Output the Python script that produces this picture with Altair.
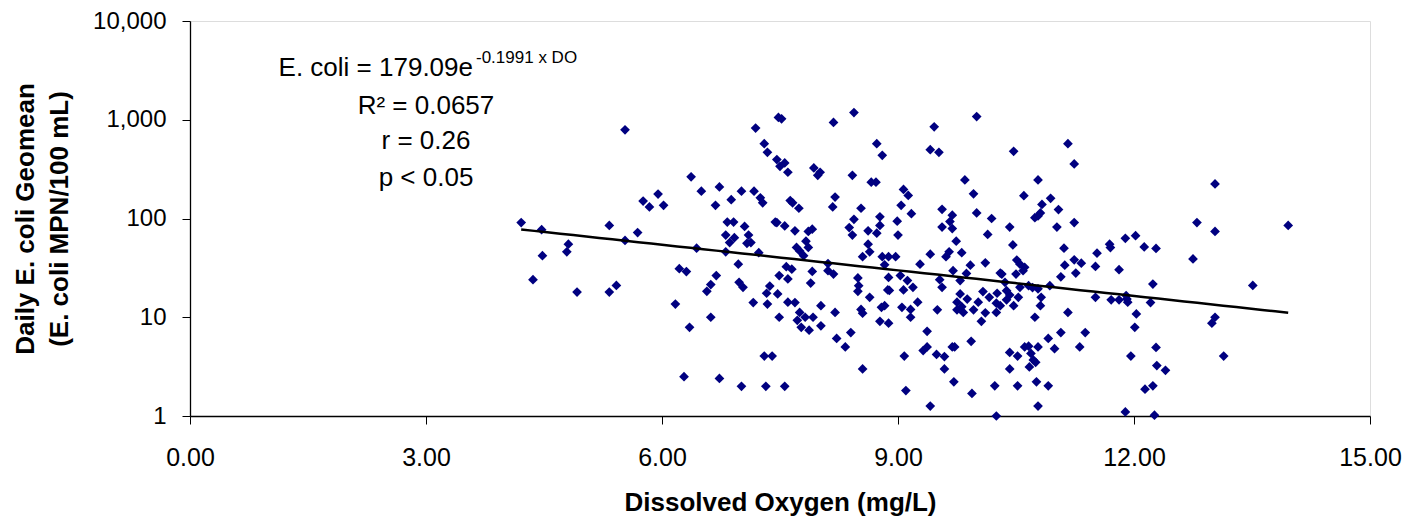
import altair as alt
import numpy as np
import pandas as pd

# Dissolved oxygen (mg/L) and daily E. coli geomean (MPN/100 mL)
do_g1 = [4.21, 4.36, 4.47, 4.48, 4.79, 4.81, 4.92, 5.33, 5.33, 5.42, 5.53, 5.53, 5.69, 5.76, 5.84, 5.95]
ec_g1 = [91, 24, 77, 42, 46, 55, 18, 85, 18, 21, 790, 60, 72, 150, 131, 177]

do_g2 = [6.02, 6.17, 6.22, 6.28, 6.31, 6.35, 6.37, 6.44, 6.50, 6.57, 6.62, 6.62, 6.68, 6.69, 6.73, 6.73,
         6.81, 6.81, 6.83, 6.86, 6.88, 6.91, 6.92, 6.97, 6.98, 7.01, 7.01, 7.03, 7.05, 7.08, 7.10, 7.13,
         7.16, 7.17, 7.19, 7.23, 7.25, 7.28, 7.30, 7.30, 7.32, 7.33, 7.34, 7.34, 7.37, 7.40, 7.44]
ec_g2 = [136, 13.6, 31, 2.5, 29, 7.9, 264, 50, 189, 18.3, 21.4, 10.0, 136, 26.4, 209, 2.4,
         68, 46, 92, 57, 155, 92, 64, 34.5, 22.6, 189, 2.0, 20.1, 83, 56, 68, 57,
         14.1, 189, 823, 45, 162, 144, 572, 4.05, 2.0, 17.5, 468, 13.6, 20.7, 4.05, 92]

do_g3 = [7.48, 7.52, 8.18, 8.44, 8.73, 8.80, 7.46, 7.56, 7.50, 7.60, 7.93, 8.01, 7.98, 8.42, 8.66, 8.72,
         9.07, 9.13, 7.63, 7.66, 7.74, 8.20, 8.17, 8.53, 9.04, 9.17, 7.46, 7.56, 7.69, 7.86, 7.91, 8.44,
         8.38, 8.42, 8.77, 8.77, 8.62, 8.73, 8.99, 9.00, 7.83, 7.86, 7.71, 7.75, 7.80, 8.62, 8.64, 8.55,
         8.80, 8.88, 8.97, 8.83, 8.11, 8.11, 8.18, 7.58, 7.65, 7.91, 7.49, 7.60, 7.89, 8.49, 8.50, 8.49,
         8.88, 9.03, 9.12, 9.19, 8.87, 8.89, 9.07, 8.64, 7.47, 7.60, 7.69, 8.02, 8.20, 7.49, 7.75, 7.82,
         7.72, 7.77, 7.87, 7.92, 8.02, 8.53, 8.55, 8.79, 8.83, 8.77, 8.88, 9.05, 9.16, 9.16, 8.22, 8.33,
         8.40, 8.55, 9.08, 9.10, 7.56]
ec_g3 = [1054, 1021, 938, 1183, 572, 436, 395, 365, 338, 294, 325, 294, 274, 274, 233, 233,
         197, 171, 152, 144, 127, 165, 131, 127, 136, 112, 91, 84, 75, 74, 78, 98,
         81, 68, 104, 85, 75, 71, 94, 68, 59, 51, 51, 47, 42, 55, 46, 41,
         41, 41, 41, 34, 35, 29.6, 27.4, 32.5, 30.7, 29.1, 26.4, 24.4, 22.2, 25.0, 20.9, 18.3,
         25.3, 26.4, 23.5, 20.1, 18.9, 18.7, 18.9, 15.9, 17.2, 14.2, 14.1, 13.1, 11.2, 10.0, 11.2, 10.0,
         9.3, 7.9, 7.4, 10.0, 8.2, 12.0, 11.0, 12.6, 13.1, 9.1, 8.7, 12.6, 12.0, 10.0, 6.1, 5.0,
         7.0, 3.0, 4.05, 1.81, 2.0]

do_g4 = [10.00, 9.46, 9.41, 9.52, 10.47, 9.85, 9.96, 10.78, 10.60, 9.56, 9.69, 9.66, 9.56, 9.69, 10.00, 10.19,
         10.14, 10.42, 10.46, 10.83, 10.81, 10.74, 10.78, 9.74, 9.81, 9.65, 9.61, 9.41, 9.28, 9.92, 10.11, 9.70,
         9.87, 9.79, 9.53, 9.56, 9.25, 9.50, 9.79, 9.88, 9.75, 9.81, 9.75, 9.83, 9.96, 10.02, 10.08, 10.16,
         10.11, 10.06, 10.26, 10.25, 10.30, 10.25, 10.38, 10.42, 10.38, 10.47, 10.32, 10.30, 10.36, 10.51, 10.55, 10.59,
         10.50, 10.61, 10.55, 10.53, 10.66, 10.71, 10.78, 10.82, 10.81, 10.74, 9.93, 9.72, 9.69, 9.37, 9.32, 9.49,
         9.59, 9.37, 9.59, 9.71, 9.94, 10.23, 9.41, 10.25, 10.42, 10.52, 10.42, 10.61, 10.66, 10.69, 10.72, 10.75,
         10.67, 10.78, 10.52, 10.76, 10.78]
ec_g4 = [1078, 849, 498, 468, 479, 246, 178, 246, 170, 124, 108, 93, 82, 79, 114, 100,
         69, 82, 54, 139, 114, 102, 106, 59, 45, 46, 41, 43.5, 34.5, 33.7, 35.6, 29.6,
         27.8, 23.5, 24.0, 20.1, 14.2, 11.9, 17.2, 15.3, 14.2, 12.8, 11.9, 11.2, 11.9, 14.2, 18.2, 15.9,
         11.1, 9.1, 17.5, 13.9, 13.1, 11.2, 18.6, 16.8, 15.0, 13.1, 27.4, 28, 22.6, 37.9, 34.5, 29.6,
         27.4, 32, 20.1, 15.9, 20.9, 20, 19.4, 15.9, 13.1, 10.0, 5.7, 5.0, 5.0, 5.0, 4.6, 4.2,
         4.0, 7.2, 3.0, 2.22, 1.69, 2.02, 1.26, 1.0, 4.4, 4.05, 3.0, 5.0, 5.1, 4.3, 3.7, 3.5,
         3.14, 5.0, 2.02, 2.22, 1.26]

do_g5 = [11.16, 11.24, 10.94, 11.04, 11.02, 11.24, 11.11, 11.12, 11.24, 11.33, 11.26, 11.07, 10.93, 11.53, 11.51, 11.69,
         11.70, 11.89, 12.02, 12.13, 12.28, 11.81, 12.24, 11.51, 11.71, 11.81, 11.91, 11.92, 11.90, 12.21, 12.03, 12.01,
         11.16, 10.91, 11.07, 10.99, 11.31, 11.38, 11.96, 12.28, 12.29, 12.40, 10.91, 12.14, 12.24, 11.89, 12.26]
ec_g5 = [572, 357, 160, 123, 82, 91, 50, 33.7, 38.2, 35.3, 28.0, 25.7, 20.9, 44.6, 32.7, 54.9,
         50.8, 63, 67, 51.6, 49.7, 30.3, 21.7, 15.9, 15.0, 15.0, 15.3, 14.2, 16.6, 14.1, 10.8, 7.9,
         11.2, 6.1, 7.0, 4.8, 5.0, 7.0, 4.05, 4.95, 3.24, 2.9, 2.02, 1.87, 2.02, 1.1, 1.02]

do_g6 = [13.03, 12.80, 13.03, 13.96, 12.75, 13.51, 13.03, 12.99, 13.14]
ec_g6 = [224, 91, 74, 85, 39, 21, 10.0, 8.7, 4.05]

x_ticks = [0, 3, 6, 9, 12, 15]
y_ticks = [1, 10, 100, 1000, 10000]

# Trendline as given on the chart: E. coli = 179.09 e^(-0.1991 x DO)
coef_a = 179.09
coef_b = -0.1991

FONT = "Liberation Sans"

pts = pd.DataFrame({
    "DO": do_g1 + do_g2 + do_g3 + do_g4 + do_g5 + do_g6,
    "EC": ec_g1 + ec_g2 + ec_g3 + ec_g4 + ec_g5 + ec_g6,
})

trend_x = np.linspace(pts["DO"].min(), pts["DO"].max(), 60)
trend = pd.DataFrame({"DO": trend_x, "EC": coef_a * np.exp(coef_b * trend_x)})

xscale = alt.Scale(domain=[0, 15], nice=False, zero=False)
yscale = alt.Scale(type="log", domain=[1, 10000], nice=False)

xaxis = alt.Axis(
    values=x_ticks, format=".2f", grid=False,
    labelFont=FONT, labelFontSize=25, labelColor="black", labelPadding=21, labelFlush=False,
    tickSize=8, tickColor="black", domainColor="black", tickWidth=1, domainWidth=1.3,
    title="Dissolved Oxygen (mg/L)", titleFont=FONT, titleFontSize=26, titleFontWeight="bold",
    titleColor="black", titleY=94, titleBaseline="alphabetic",
)
yaxis = alt.Axis(
    values=y_ticks, format=",.0f", grid=False,
    labelFont=FONT, labelFontSize=24, labelColor="black", labelPadding=16,
    tickSize=8, tickColor="black", domainColor="black", tickWidth=1, domainWidth=1.3,
    title=["Daily E. coli Geomean", "(E. coli MPN/100 mL)"], titleFont=FONT, titleFontSize=26,
    titleFontWeight="bold", titleColor="black", titleX=-157, titleY=197.5,
    titleAlign="center", titleBaseline="alphabetic", titleLineHeight=34, titleAngle=270,
)

points = alt.Chart(pts).mark_point(
    shape="diamond", filled=True, size=95, color="#000080", opacity=1, strokeWidth=0
).encode(
    x=alt.X("DO:Q", scale=xscale, axis=xaxis),
    y=alt.Y("EC:Q", scale=yscale, axis=yaxis),
)

line = alt.Chart(trend).mark_line(color="black", strokeWidth=2.5).encode(
    x=alt.X("DO:Q", scale=xscale),
    y=alt.Y("EC:Q", scale=yscale),
)

def label(text, x, y, size=26, align="center"):
    return alt.Chart(pd.DataFrame({"t": [text]})).mark_text(
        font=FONT, fontSize=size, color="black", align=align, baseline="alphabetic"
    ).encode(text="t:N", x=alt.value(x), y=alt.value(y))

annotations = [
    label("E. coli = 179.09e", 283, 55, align="right"),
    label("-0.1991 x DO", 286, 42, size=17, align="left"),
    label("R\u00b2 = 0.0657", 236, 93),
    label("r = 0.26", 236, 128),
    label("p < 0.05", 236, 165),
]

chart = alt.layer(points, line, *annotations).properties(
    width=1180, height=395,
    autosize=alt.AutoSizeParams(type="none"),
    padding={"left": 182, "top": 13, "right": 40, "bottom": 100},
).configure_view(stroke=None).configure(background="white")

chart.save("out.html", embed_options={"renderer": "svg", "actions": False})
